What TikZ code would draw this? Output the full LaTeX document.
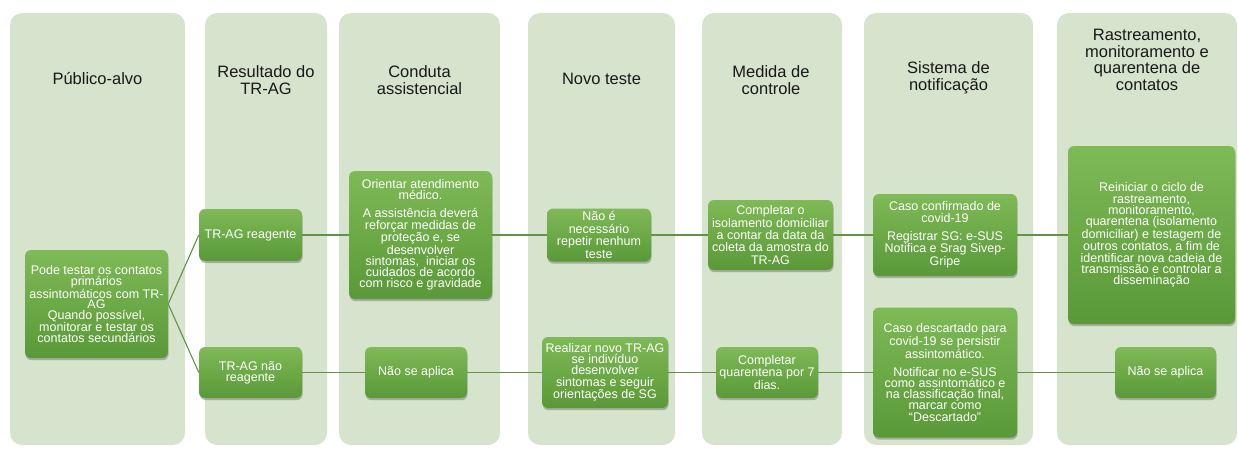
\documentclass[tikz,border=0pt]{standalone}
\usepackage{fontspec}
\setmainfont{Liberation Sans}
\usetikzlibrary{shadows}

\begin{document}
\begin{tikzpicture}[x=1pt, y=-1pt,
    colbox/.style={fill=panelgreen, rounded corners=12pt},
    headtxt/.style={align=center, text=headgray, font=\fontsize{16.5}{16.5}\selectfont},
    greenbox/.style={draw=none, rounded corners=6pt, align=center, inner sep=0pt,
      top color=boxtop, bottom color=boxbottom, text=white,
      font=\fontsize{12.5}{11.2}\selectfont,
      drop shadow={shadow xshift=0.6pt, shadow yshift=-2.2pt, opacity=0.35, fill=black!70}},
    link/.style={draw=linkgreen, line width=1.1pt}]
      % Define colors
      \definecolor{panelgreen}{RGB}{214,227,205}
      \definecolor{boxtop}{RGB}{126,186,86}
      \definecolor{boxbottom}{RGB}{90,153,56}
      \definecolor{linkgreen}{RGB}{100,145,72}
      \definecolor{headgray}{RGB}{25,25,25}

      \useasboundingbox (0,0) rectangle (1239,450);

      % Column panels
      \fill[colbox] (10,13) rectangle (185,445);
      \fill[colbox] (205,13) rectangle (327,445);
      \fill[colbox] (339,13) rectangle (500,445);
      \fill[colbox] (528,13) rectangle (675,445);
      \fill[colbox] (702,13) rectangle (842,445);
      \fill[colbox] (864,13) rectangle (1033,445);
      \fill[colbox] (1057,13) rectangle (1237,445);

      % Column headers
      \node[headtxt] (h1) at (97.5,79) {Público-alvo};
      \node[headtxt] (h2) at (266,80) {Resultado do\\TR-AG};
      \node[headtxt] (h3) at (419.5,80) {Conduta\\assistencial};
      \node[headtxt] (h4) at (601.5,79) {Novo teste};
      \node[headtxt] (h5) at (771,80) {Medida de\\controle};
      \node[headtxt] (h6) at (948.5,78) {Sistema de\\notificação};
      \node[headtxt] (h7) at (1147,60) {Rastreamento,\\monitoramento e\\quarentena de\\contatos};

      % Target group
      \node[greenbox, font=\fontsize{12.5}{10.5}\selectfont, minimum width=143pt, minimum height=108pt] (alvo) at (96.5,304)
        {Pode testar os contatos\\primários\\assintomáticos com TR-\\AG\\Quando possível,\\monitorar e testar os\\contatos secundários};

      % Test results
      \node[greenbox, minimum width=103pt, minimum height=52pt] (reag) at (250.5,235) {TR-AG reagente};
      \node[greenbox, minimum width=103pt, minimum height=51pt] (naoreag) at (250.5,372.5) {TR-AG não\\reagente};

      % Care
      \node[greenbox, minimum width=143pt, minimum height=128pt] (orient) at (420.5,235)
        {Orientar atendimento\\médico.\\[7pt]A assistência deverá\\reforçar medidas de\\proteção e, se\\desenvolver\\sintomas,~ iniciar os\\cuidados de acordo\\com risco e gravidade};
      \node[greenbox, minimum width=102pt, minimum height=51pt] (naoap1) at (416,372.5) {Não se aplica};

      % New test
      \node[greenbox, font=\fontsize{12.5}{12.5}\selectfont, minimum width=104pt, minimum height=53pt] (naonec) at (599,235)
        {Não é\\necessário\\repetir nenhum\\teste};
      \node[greenbox, minimum width=126pt, minimum height=71pt] (novo) at (605,372.5)
        {Realizar novo TR-AG\\se indivíduo\\desenvolver\\sintomas e seguir\\orientações de SG};

      % Control measure
      \node[greenbox, font=\fontsize{12.5}{12.3}\selectfont, minimum width=125pt, minimum height=70pt] (isol) at (770.5,235)
        {Completar o\\isolamento domiciliar\\a contar da data da\\coleta da amostra do\\TR-AG};
      \node[greenbox, font=\fontsize{12.5}{12.3}\selectfont, minimum width=102pt, minimum height=51pt] (quar) at (767,372.5)
        {Completar\\quarentena por 7\\dias.};

      % Notification
      \node[greenbox, minimum width=144pt, minimum height=82pt] (conf) at (945,235)
        {Caso confirmado de\\covid-19\\[7pt]Registrar SG: e-SUS\\Notifica e Srag Sivep-\\Gripe};
      \node[greenbox, minimum width=144pt, minimum height=130pt] (desc) at (945,372.5)
        {Caso descartado para\\covid-19 se persistir\\assintomático.\\[7pt]Notificar no e-SUS\\como assintomático e\\na classificação final,\\marcar como\\“Descartado”};

      % Contact tracing
      \node[greenbox, minimum width=167pt, minimum height=178pt] (reini) at (1151.5,235)
        {Reiniciar o ciclo de\\rastreamento,\\monitoramento,\\quarentena (isolamento\\domiciliar) e testagem de\\outros contatos, a fim de\\identificar nova cadeia de\\transmissão e controlar a\\disseminação};
      \node[greenbox, minimum width=101pt, minimum height=51pt] (naoap2) at (1165.5,372.5) {Não se aplica};

      % Connections
      \draw[link] (alvo.east) -- (reag.west);
      \draw[link] (alvo.east) -- (naoreag.west);
      \draw[link] (reag) -- (orient) -- (naonec) -- (isol) -- (conf) -- (reini);
      \draw[link] (naoreag) -- (naoap1) -- (novo) -- (quar) -- (desc) -- (naoap2);

\end{tikzpicture}
\end{document}
